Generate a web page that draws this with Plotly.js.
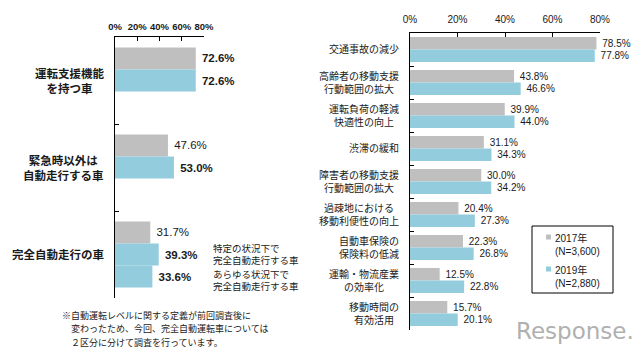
<!DOCTYPE html>
<html><head><meta charset="utf-8">
<script src="https://cdn.plot.ly/plotly-3.0.1.min.js"></script>
<style>html,body{margin:0;padding:0;background:#fff}#chart{width:640px;height:356px}</style>
</head><body><div id="chart"></div>
<script>
// ---- Left chart data ----
const leftCats = ['運転支援機能を持つ車', '緊急時以外は自動走行する車', '完全自動走行の車'];
const leftLabels = ['運転支援機能<br>を持つ車', '緊急時以外は<br>自動走行する車', '完全自動走行の車'];
const left2017 = [72.6, 47.6, 31.7];
const left2019 = [72.6, 53.0, 39.3];
const left2019bCat = ['完全自動走行の車'];
const left2019b = [33.6];
const left2019Notes = ['特定の状況下で<br>完全自動走行する車', 'あらゆる状況下で<br>完全自動走行する車'];
const leftTicks = [0, 20, 40, 60, 80];
const leftTickText = ['0%', '20%', '40%', '60%', '80%'];

// ---- Right chart data ----
const rightCats = ['交通事故の減少', '高齢者の移動支援行動範囲の拡大', '運転負荷の軽減快適性の向上', '渋滞の緩和',
  '障害者の移動支援行動範囲の拡大', '過疎地における移動利便性の向上', '自動車保険の保険料の低減',
  '運輸・物流産業の効率化', '移動時間の有効活用'];
const rightLabels = ['交通事故の減少', '高齢者の移動支援<br>行動範囲の拡大', '運転負荷の軽減<br>快適性の向上', '渋滞の緩和',
  '障害者の移動支援<br>行動範囲の拡大', '過疎地における<br>移動利便性の向上', '自動車保険の<br>保険料の低減',
  '運輸・物流産業<br>の効率化', '移動時間の<br>有効活用'];
const right2017 = [78.5, 43.8, 39.9, 31.1, 30.0, 20.4, 22.3, 12.5, 15.7];
const right2019 = [77.8, 46.6, 44.0, 34.3, 34.2, 27.3, 26.8, 22.8, 20.1];
const rightTicks = [0, 20, 40, 60, 80];
const rightTickText = ['0%', '20%', '40%', '60%', '80%'];

const seriesNames = ['2017年<br>(N=3,600)', '2019年<br>(N=2,880)'];
const footnoteLines = ['※自動運転レベルに関する定義が前回調査後に', '　変わったため、今回、完全自動運転車については', '　２区分に分けて調査を行っています。'];

const GRAY = '#bfbfbf', BLUE = '#93cddd';
const FONT = 'Liberation Sans, Arial, Noto Sans CJK JP, sans-serif';
const TXT = '#1a1a1a';
const TT = '\u00a0%{x:.1f}%';

const traces = [
  {type:'bar', orientation:'h', name:seriesNames[0], x:left2017, y:leftCats, xaxis:'x', yaxis:'y', marker:{color:GRAY},
   texttemplate:TT, textposition:'outside', cliponaxis:false, constraintext:'none',
   textfont:{size:11.5, color:TXT, family:FONT, weight:[700,400,400]}, showlegend:false, hoverinfo:'none'},
  {type:'bar', orientation:'h', name:seriesNames[1], x:left2019, y:leftCats, xaxis:'x', yaxis:'y', marker:{color:BLUE},
   texttemplate:TT, textposition:'outside', cliponaxis:false, constraintext:'none',
   textfont:{size:11.5, color:TXT, family:FONT, weight:700}, showlegend:false, hoverinfo:'none'},
  {type:'bar', orientation:'h', name:seriesNames[1], x:left2019b, y:left2019bCat, xaxis:'x', yaxis:'y', marker:{color:BLUE},
   texttemplate:TT, textposition:'outside', cliponaxis:false, constraintext:'none',
   textfont:{size:11.5, color:TXT, family:FONT, weight:700}, showlegend:false, hoverinfo:'none'},
  {type:'bar', orientation:'h', name:seriesNames[0], x:right2017, y:rightCats, xaxis:'x2', yaxis:'y2', marker:{color:GRAY},
   texttemplate:TT, textposition:'outside', cliponaxis:false, constraintext:'none',
   textfont:{size:10, color:TXT, family:FONT}, showlegend:false, hoverinfo:'none'},
  {type:'bar', orientation:'h', name:seriesNames[1], x:right2019, y:rightCats, xaxis:'x2', yaxis:'y2', marker:{color:BLUE},
   texttemplate:TT, textposition:'outside', cliponaxis:false, constraintext:'none',
   textfont:{size:10, color:TXT, family:FONT}, showlegend:false, hoverinfo:'none'}
];

const annotations = [];
leftCats.forEach((c, i) => annotations.push({xref:'paper', yref:'y', x:106/640, y:c, xanchor:'right', yanchor:'middle',
  align:'center', text:leftLabels[i], showarrow:false, font:{size:11.5, color:TXT, family:FONT, weight:700}}));
rightCats.forEach((c, i) => annotations.push({xref:'paper', yref:'y2', x:401/640, y:c, xanchor:'right', yanchor:'middle',
  align:'center', text:rightLabels[i], showarrow:false, font:{size:10, color:TXT, family:FONT}}));
left2019Notes.forEach((t, i) => annotations.push({xref:'paper', yref:'y', x:211/640, y:2 + i * 0.3, xanchor:'left', yanchor:'middle',
  align:'left', text:t, showarrow:false, font:{size:9.5, color:TXT, family:FONT}}));
footnoteLines.forEach((t, i) => annotations.push({xref:'paper', yref:'paper', x:60/640, y:(356 - 315 - i * 13.5) / 356,
  xanchor:'left', yanchor:'middle', align:'left', text:t, showarrow:false, font:{size:9, color:TXT, family:FONT}}));
annotations.push({xref:'paper', yref:'paper', x:575/640, y:(356 - 331) / 356, xanchor:'center', yanchor:'middle',
  text:'Response.', showarrow:false, font:{size:23, color:'#b0b0b0', family:'DejaVu Sans, sans-serif'}});

// custom legend (box, small swatches, texts)
const shapes = [{type:'rect', xref:'paper', yref:'paper', x0:532/640, x1:613/640, y0:(356-293)/356, y1:(356-226)/356,
  line:{color:'#000', width:1}, fillcolor:'#fff', layer:'above'}];
const legendColors = [GRAY, BLUE];
const legendTop = [237, 269];
seriesNames.forEach((n, i) => {
  shapes.push({type:'rect', xref:'paper', yref:'paper', x0:546/640, x1:551/640,
    y0:(356 - legendTop[i] - 2.5) / 356, y1:(356 - legendTop[i] + 2.5) / 356, line:{width:0}, fillcolor:legendColors[i], layer:'above'});
  annotations.push({xref:'paper', yref:'paper', x:553/640, y:(356 - legendTop[i] + 7.5) / 356, xanchor:'left', yanchor:'top',
    align:'left', text:n, showarrow:false, font:{size:10, color:TXT, family:FONT}});
});

const xCommon = {range:[0,80], side:'top', ticks:'inside', ticklen:4, tickcolor:'#000', showline:true, linecolor:'#000',
  linewidth:1, showgrid:false, zeroline:false, tickmode:'array', fixedrange:true};
const yCommon = {type:'category', autorange:'reversed', tickson:'boundaries', ticks:'inside', ticklen:4, tickcolor:'#000',
  showline:true, linecolor:'#000', linewidth:1, showgrid:false, zeroline:false, showticklabels:false, fixedrange:true};

const layout = {
  width:640, height:356, margin:{l:0, r:0, t:0, b:0}, paper_bgcolor:'#fff', plot_bgcolor:'#fff',
  barmode:'group', bargap:0.24, bargroupgap:0,
  font:{family:FONT, color:TXT},
  xaxis:Object.assign({}, xCommon, {domain:[115/640, 204/640], anchor:'y', tickvals:leftTicks, ticktext:leftTickText,
    tickfont:{size:9.5, weight:700, color:TXT}, ticklabelstandoff:2}),
  yaxis:Object.assign({}, yCommon, {domain:[(356-298)/356, (356-37)/356], anchor:'x'}),
  xaxis2:Object.assign({}, xCommon, {domain:[410/640, 600/640], anchor:'y2', tickvals:rightTicks, ticktext:rightTickText,
    tickfont:{size:10, color:TXT}, ticklabelstandoff:5}),
  yaxis2:Object.assign({}, yCommon, {domain:[(356-330)/356, (356-33)/356], anchor:'x2'}),
  showlegend:false,
  shapes:shapes,
  annotations:annotations
};

Plotly.newPlot('chart', traces, layout, {displayModeBar:false, staticPlot:true});
</script></body></html>
